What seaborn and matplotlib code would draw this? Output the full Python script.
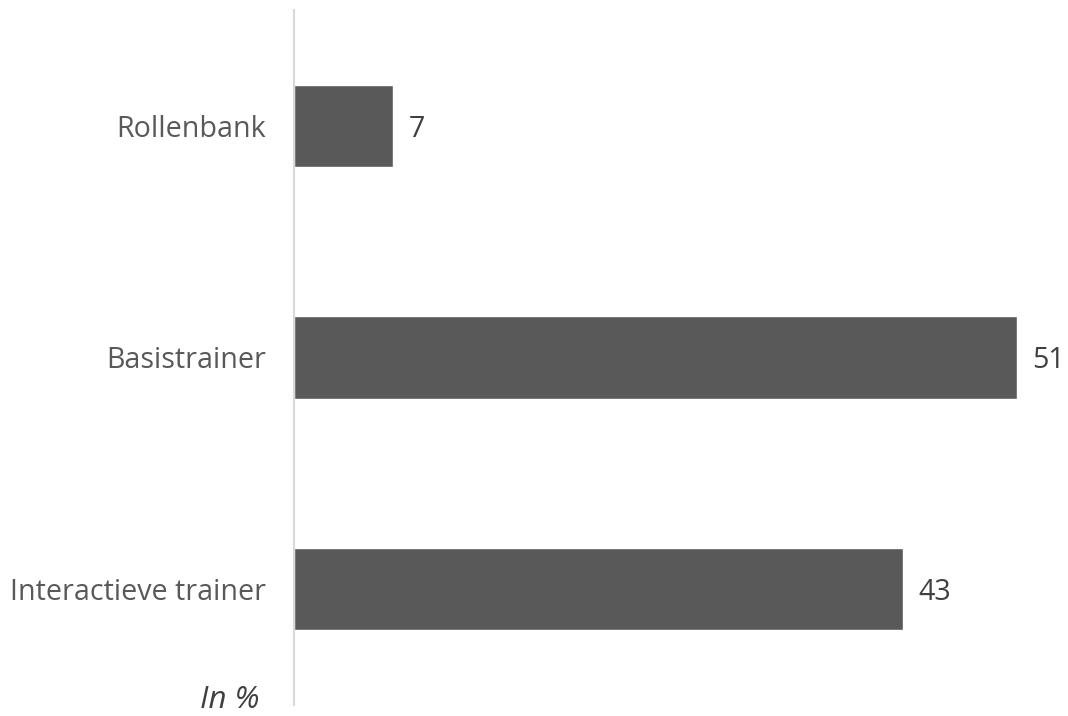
import pandas as pd
import seaborn as sns
import matplotlib.pyplot as plt

# Data
categories = ['Rollenbank', 'Basistrainer', 'Interactieve trainer']
values = [7, 51, 43]

df = pd.DataFrame({'category': categories, 'value': values})

sns.set_theme(style='white')
plt.rcParams['font.family'] = ['Open Sans', 'DejaVu Sans']

fig = plt.figure(figsize=(10.68, 7.16), dpi=100)
ax = fig.add_axes([294 / 1068, 1 - 705 / 716, (1059 - 294) / 1068, 695 / 716])

sns.barplot(data=df, x='value', y='category', color='#595959', saturation=1,
            width=0.355, ax=ax, orient='h')

ax.set_xlim(0, 54)
ax.set_ylim(2.5, -0.5)
ax.set_xlabel('')
ax.set_ylabel('')
ax.set_xticks([])

for s in ['top', 'right', 'bottom']:
    ax.spines[s].set_visible(False)
ax.spines['left'].set_color('#d9d9d9')
ax.spines['left'].set_linewidth(1.5)

ax.tick_params(axis='y', length=0, pad=20, labelsize=20.6, labelcolor='#595959')

# value labels
for i, v in enumerate(values):
    ax.annotate(str(v), xy=(v, i), xytext=(11, 0), textcoords='offset points',
                va='center_baseline', ha='left', fontsize=20.6, color='#404040')

fig.text(260 / 1068, 1 - 700 / 716, 'In %', ha='right', va='center',
         fontsize=22.5, style='italic', color='#404040')

fig.savefig('out.png', dpi=100)
